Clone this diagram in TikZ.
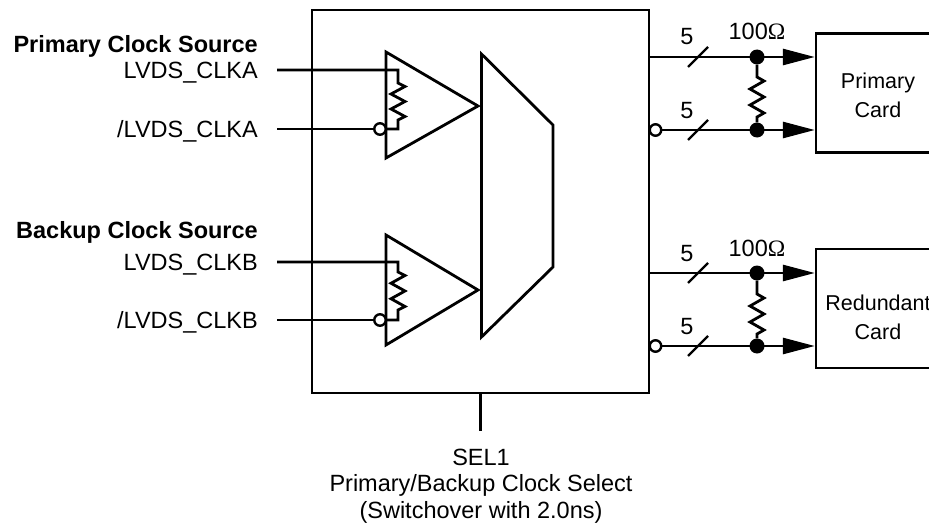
\documentclass[tikz,border=0pt]{standalone}
\usepackage{fontspec}
\setmainfont{Liberation Sans}
\newfontfamily\omfont{Liberation Serif}
\usetikzlibrary{arrows.meta}
\begin{document}
\begin{tikzpicture}[x=1pt,y=-1pt,
	wire/.style={line width=2.8pt},
	lbl/.style={font=\fontsize{23.5}{28}\selectfont,inner sep=0pt},
	cardtxt/.style={font=\fontsize{21.5}{29}\selectfont,inner sep=0pt,align=center},
	card/.style={draw,line width=2.4pt,minimum width=124pt,minimum height=119pt,inner sep=0pt},
	dot/.style={circle,fill,inner sep=0pt,minimum size=15pt},
	bub/.style={circle,draw,line width=2.4pt,fill=white,inner sep=0pt,minimum size=11.5pt},
	sig/.style={wire,-{Triangle[length=32pt,width=16pt]}}]
	\useasboundingbox (0,0) rectangle (929,527);

	% block and cards
	\node[draw,line width=1.4pt,minimum width=337pt,minimum height=383pt,inner sep=0pt] (blk) at (480.5,201.5) {};
	\node[card] (pcard) at (878,93) {};
	\node[card] (rcard) at (878,308.5) {};
	\node[cardtxt] (pctxt) at (878,95) {Primary\\Card};
	\node[cardtxt] (rctxt) at (878,317) {Redundant\\Card};

	% input labels
	\node[lbl,anchor=base east] (pcs) at (258,53) {\bfseries Primary Clock Source};
	\node[lbl,anchor=base east] (clka) at (258,78.5) {LVDS\_CLKA};
	\node[lbl,anchor=base east] (nclka) at (258,137.5) {/LVDS\_CLKA};
	\node[lbl,anchor=base east] (bcs) at (258,238) {\bfseries Backup Clock Source};
	\node[lbl,anchor=base east] (clkb) at (258,270) {LVDS\_CLKB};
	\node[lbl,anchor=base east] (nclkb) at (258,328.5) {/LVDS\_CLKB};

	% receiver A
	\draw[wire] (386,52) -- (478,106) -- (386,158) -- cycle;
	\draw[wire] (277,70) -- (398,70) -- (398,83) -- ++(7,3.5) -- ++(-14,7.5) -- ++(14,7.5) -- ++(-14,7.5) -- ++(14,7.5) -- ++(-7,3.5) -- (398,129) -- (386,129);
	\node[bub] (bna) at (380,129) {};
	\draw[wire] (277,129) -- (bna.west);

	% receiver B
	\draw[wire] (386,235) -- (478,290) -- (386,345) -- cycle;
	\draw[wire] (277,262) -- (398,262) -- (398,272) -- ++(7,3.5) -- ++(-14,7.75) -- ++(14,7.75) -- ++(-14,7.75) -- ++(14,7.75) -- ++(-7,3.5) -- (398,320) -- (386,320);
	\node[bub] (bnb) at (380,320) {};
	\draw[wire] (277,320) -- (bnb.west);

	% mux
	\draw[wire] (481.5,54) -- (553,125) -- (553,267) -- (481.5,337) -- cycle;

	% outputs to primary card
	\draw[sig] (650,57) -- (pcard.west |- 0,57);
	\node[bub] (boa) at (655.5,130) {};
	\draw[sig] (boa.east) -- (pcard.west |- 0,130);
	\draw[wire,line width=2.4pt] (688,67) -- (708,47);
	\draw[wire,line width=2.4pt] (688,140) -- (708,120);
	\node[lbl,anchor=base] (na1) at (687,45) {5};
	\node[lbl,anchor=base] (na2) at (687,118) {5};
	\node[dot] (da1) at (757,57) {};
	\node[dot] (da2) at (757,130) {};
	\draw[wire] (da1) -- (757,77) -- ++(7,4) -- ++(-14,8) -- ++(14,8) -- ++(-14,8) -- ++(14,8) -- ++(-7,4) -- (da2);
	\node[lbl,anchor=base] (ra) at (757,40) {100{\omfont Ω}};

	% outputs to redundant card
	\draw[sig] (650,273) -- (rcard.west |- 0,273);
	\node[bub] (bob) at (655.5,346) {};
	\draw[sig] (bob.east) -- (rcard.west |- 0,346);
	\draw[wire,line width=2.4pt] (688,283) -- (708,263);
	\draw[wire,line width=2.4pt] (688,356) -- (708,336);
	\node[lbl,anchor=base] (nb1) at (687,261) {5};
	\node[lbl,anchor=base] (nb2) at (687,334) {5};
	\node[dot] (db1) at (757,273) {};
	\node[dot] (db2) at (757,346) {};
	\draw[wire] (db1) -- (757,294) -- ++(7,4) -- ++(-14,8) -- ++(14,8) -- ++(-14,8) -- ++(14,8) -- ++(-7,4) -- (db2);
	\node[lbl,anchor=base] (rb) at (757,256.5) {100{\omfont Ω}};

	% select input
	\draw[wire] (blk.south) -- ++(0,37);
	\node[lbl,anchor=base] (sel) at (481,465) {SEL1};
	\node[lbl,anchor=base] (selname) at (481,491.5) {Primary/Backup Clock Select};
	\node[lbl,anchor=base] (selnote) at (481,518) {(Switchover with 2.0ns)};
\end{tikzpicture}
\end{document}
